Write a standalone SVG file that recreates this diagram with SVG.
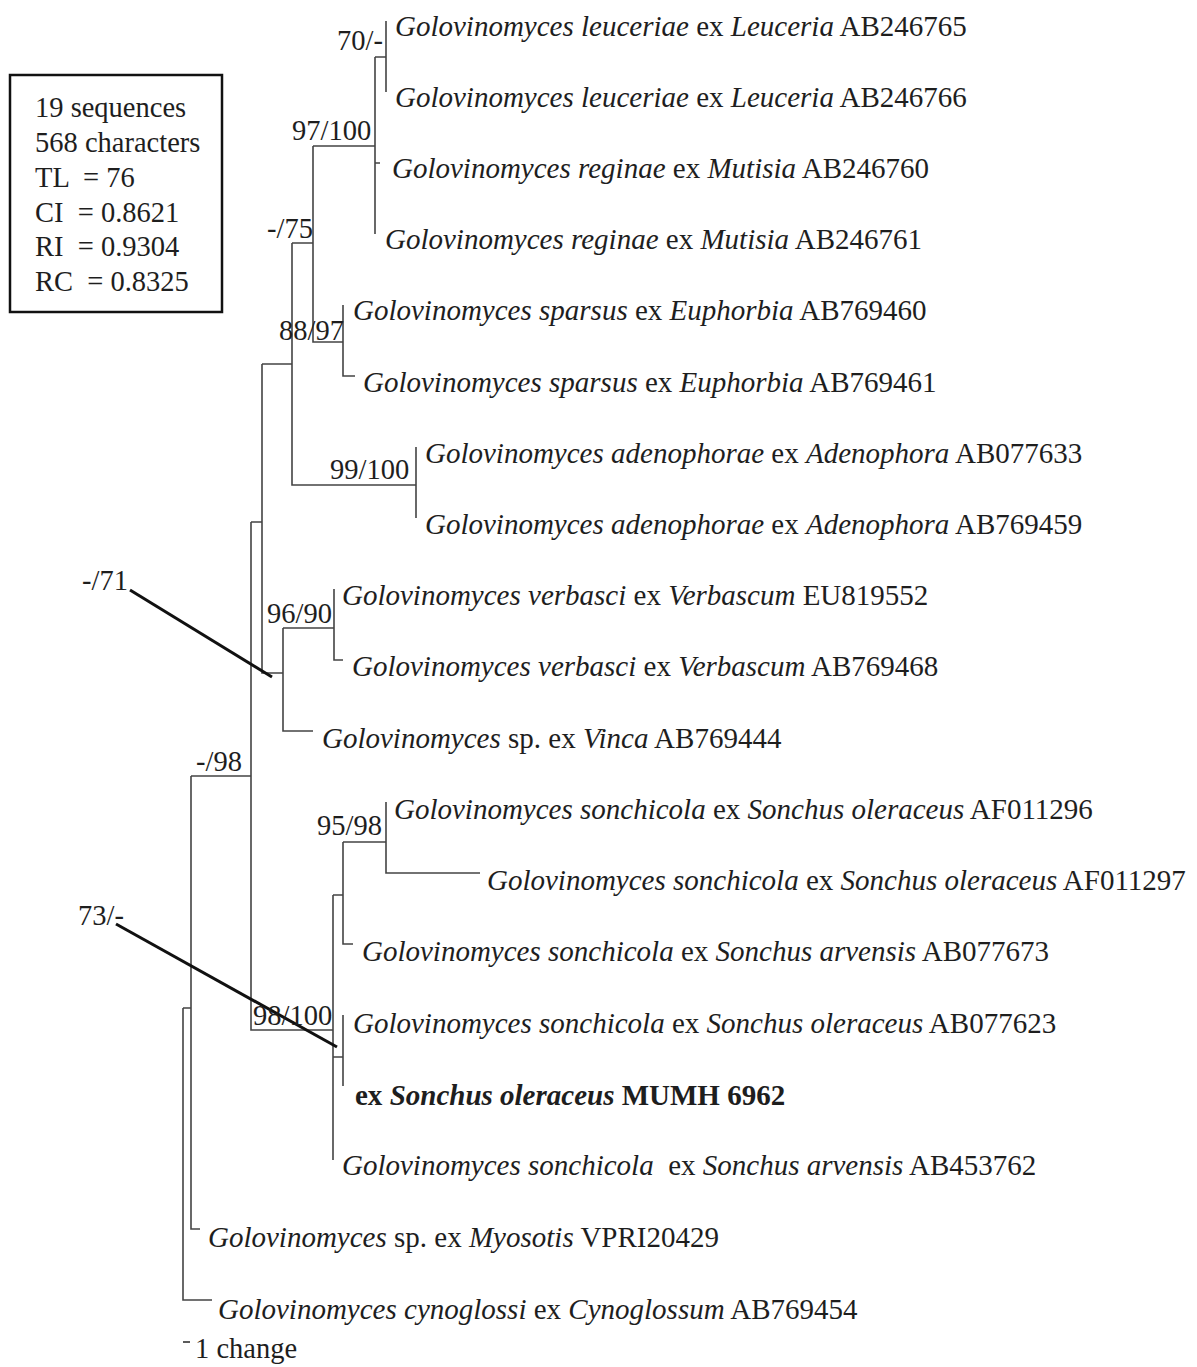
<svg xmlns="http://www.w3.org/2000/svg" width="1197" height="1367" viewBox="0 0 1197 1367">
<style>
text{font-family:"Liberation Serif","Times New Roman",serif;font-size:28.5px;fill:#1e1e1e}
.tx text{font-size:29px}
.i{font-style:italic}
.b{font-weight:bold}
.br{fill:none;stroke:#444;stroke-width:1.6}
.ptr{stroke:#111;stroke-width:3;fill:none}
</style>
<rect width="1197" height="1367" fill="#fff"/>
<g id="stats">
<rect x="10" y="75" width="212" height="237" fill="none" stroke="#111" stroke-width="2.5"/>
<text x="35" y="117">19 sequences</text>
<text x="35" y="152">568 characters</text>
<text x="35" y="187" xml:space="preserve">TL  = 76</text>
<text x="35" y="222" xml:space="preserve">CI  = 0.8621</text>
<text x="35" y="256" xml:space="preserve">RI  = 0.9304</text>
<text x="35" y="291" xml:space="preserve">RC  = 0.8325</text>
</g>
<g id="connectors">
<path class="br" d="M183,1008 V1300 H212 M183,1008 H191 M191,776 V1229 H200 M191,776 H251 M251,522 V1030 H333 M251,522 H262 M262,364 V673 H283 M262,364 H292 M292,243 V485 H416 M292,243 H313 M313,146 V342 H343 M313,146 H375 M375,57 V234 M375,163 H380 M375,57 H386 M386,21 V92 M343,305 V376 H355 M416,447 V518 M283,628 V731 H313 M283,628 H334 M334,589 V660 H343 M333,895 V1160 M333,895 H343 M333,1057 H343 M343,842 V944 H353 M343,842 H386 M386,802 V873 H480 M343,1015 V1086"/>
<line class="ptr" x1="130" y1="590" x2="272" y2="677"/>
<line class="ptr" x1="116" y1="924" x2="337" y2="1047"/>
<line x1="183" y1="1342" x2="190" y2="1342" stroke="#333" stroke-width="1.6"/>
</g>
<g id="supports">
<text x="337" y="50">70/-</text>
<text x="292" y="140">97/100</text>
<text x="267" y="238">-/75</text>
<text x="279" y="340">88/97</text>
<text x="330" y="479">99/100</text>
<text x="267" y="623">96/90</text>
<text x="82" y="590">-/71</text>
<text x="196" y="771">-/98</text>
<text x="317" y="835">95/98</text>
<text x="78" y="925">73/-</text>
<text x="253" y="1025">98/100</text>
</g>
<g class="tx">
<g id="t1"><text x="395" y="36"><tspan class="i">Golovinomyces leuceriae</tspan> ex <tspan class="i">Leuceria</tspan> AB246765</text></g>
<g id="t2"><text x="395" y="107"><tspan class="i">Golovinomyces leuceriae</tspan> ex <tspan class="i">Leuceria</tspan> AB246766</text></g>
<g id="t3"><text x="392" y="178"><tspan class="i">Golovinomyces reginae</tspan> ex <tspan class="i">Mutisia</tspan> AB246760</text></g>
<g id="t4"><text x="385" y="249"><tspan class="i">Golovinomyces reginae</tspan> ex <tspan class="i">Mutisia</tspan> AB246761</text></g>
<g id="t5"><text x="353" y="320"><tspan class="i">Golovinomyces sparsus</tspan> ex <tspan class="i">Euphorbia</tspan> AB769460</text></g>
<g id="t6"><text x="363" y="392"><tspan class="i">Golovinomyces sparsus</tspan> ex <tspan class="i">Euphorbia</tspan> AB769461</text></g>
<g id="t7"><text x="425" y="463"><tspan class="i">Golovinomyces adenophorae</tspan> ex <tspan class="i">Adenophora</tspan> AB077633</text></g>
<g id="t8"><text x="425" y="534"><tspan class="i">Golovinomyces adenophorae</tspan> ex <tspan class="i">Adenophora</tspan> AB769459</text></g>
<g id="t9"><text x="342" y="605"><tspan class="i">Golovinomyces verbasci</tspan> ex <tspan class="i">Verbascum</tspan> EU819552</text></g>
<g id="t10"><text x="352" y="676"><tspan class="i">Golovinomyces verbasci</tspan> ex <tspan class="i">Verbascum</tspan> AB769468</text></g>
<g id="t11"><text x="322" y="748"><tspan class="i">Golovinomyces</tspan> sp. ex <tspan class="i">Vinca</tspan> AB769444</text></g>
<g id="t12"><text x="394" y="819"><tspan class="i">Golovinomyces sonchicola</tspan> ex <tspan class="i">Sonchus oleraceus</tspan> AF011296</text></g>
<g id="t13"><text x="487" y="890"><tspan class="i">Golovinomyces sonchicola</tspan> ex <tspan class="i">Sonchus oleraceus</tspan> AF011297</text></g>
<g id="t14"><text x="362" y="961"><tspan class="i">Golovinomyces sonchicola</tspan> ex <tspan class="i">Sonchus arvensis</tspan> AB077673</text></g>
<g id="t15"><text x="353" y="1033"><tspan class="i">Golovinomyces sonchicola</tspan> ex <tspan class="i">Sonchus oleraceus</tspan> AB077623</text></g>
<g id="t16"><text x="355" y="1105" class="b">ex <tspan class="i">Sonchus oleraceus</tspan> MUMH 6962</text></g>
<g id="t17"><text x="342" y="1175" xml:space="preserve"><tspan class="i">Golovinomyces sonchicola</tspan>  ex <tspan class="i">Sonchus arvensis</tspan> AB453762</text></g>
<g id="t18"><text x="208" y="1247"><tspan class="i">Golovinomyces</tspan> sp. ex <tspan class="i">Myosotis</tspan> VPRI20429</text></g>
<g id="t19"><text x="218" y="1319"><tspan class="i">Golovinomyces cynoglossi</tspan> ex <tspan class="i">Cynoglossum</tspan> AB769454</text></g>
</g>
<g id="scale"><text x="195" y="1358">1 change</text></g>
</svg>
